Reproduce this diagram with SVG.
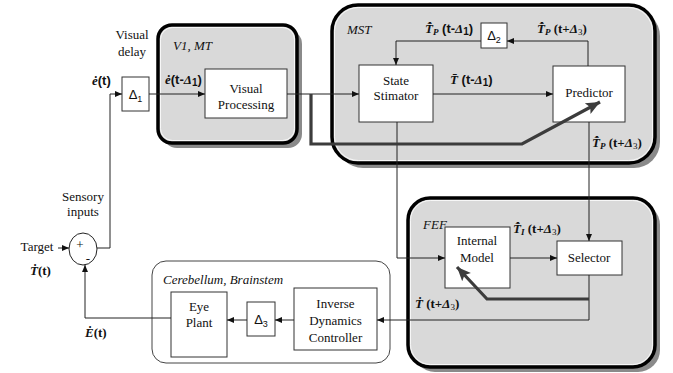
<svg xmlns="http://www.w3.org/2000/svg" width="673" height="373" viewBox="0 0 673 373">
<style>
.t{font-size:13px;fill:#111;text-anchor:middle}
.it{font-size:13px;font-style:italic;fill:#111}
.ms{font-size:13px;font-weight:bold;fill:#111}
.dl{font-size:13px;fill:#111;text-anchor:middle}
.mi{font-style:italic;font-weight:bold}
.box{fill:#fff;stroke:#333;stroke-width:1}
.sh{fill:#8a8a8a}
.reg{fill:#d9d9d9;stroke:#000;stroke-width:3.5}
.regin{fill:none;stroke:#fff;stroke-width:0.8}
.ln{fill:none;stroke:#222;stroke-width:1}
.thick{fill:none;stroke:#3c3c3c;stroke-width:3.2}
</style>
<defs>
<marker id="a" markerUnits="userSpaceOnUse" markerWidth="8" markerHeight="8" refX="7" refY="4" orient="auto">
<path d="M0,1 L7,4 L0,7 Z" fill="#111"/>
</marker>
<marker id="ab" markerUnits="userSpaceOnUse" markerWidth="16" markerHeight="14" refX="14" refY="7" orient="auto">
<path d="M0,1 L14,7 L0,13 L3,7 Z" fill="#3c3c3c"/>
</marker>
</defs>

<g id="region-v1mt">
<rect class="sh" x="163" y="30" width="139" height="118" rx="14"/>
<rect class="reg" x="158" y="25" width="139" height="118" rx="14"/>
<rect class="regin" x="160.5" y="27.5" width="134" height="113" rx="12"/>
<text class="it" style="font-family:'Liberation Serif', serif" x="173" y="50">V1, MT</text>
</g>
<g id="region-mst">
<rect class="sh" x="337" y="10" width="323" height="158" rx="26"/>
<rect class="reg" x="332" y="5" width="323" height="158" rx="26"/>
<rect class="regin" x="334.5" y="7.5" width="318" height="153" rx="24"/>
<text class="it" style="font-family:'Liberation Serif', serif" x="347" y="34">MST</text>
</g>
<g id="region-fef">
<rect class="sh" x="413" y="203" width="247" height="169" rx="22"/>
<rect class="reg" x="408" y="198" width="247" height="169" rx="22"/>
<rect class="regin" x="410.5" y="200.5" width="242" height="164" rx="20"/>
<text class="it" style="font-family:'Liberation Serif', serif" x="423" y="229">FEF</text>
</g>
<g id="region-cerebellum">
<rect x="152" y="261" width="238" height="102" rx="14" fill="#fff" stroke="#444" stroke-width="1"/>
<text class="it" style="font-family:'Liberation Serif', serif" x="163" y="284">Cerebellum, Brainstem</text>
</g>

<g id="delay1">
<rect class="box" x="122" y="77" width="27" height="34"/>
<text class="dl" style="font-family:'Liberation Sans', sans-serif" x="135.5" y="99">Δ<tspan font-size="9" dy="3">1</tspan></text>
</g>
<g id="visual-processing">
<rect class="box" x="205" y="69" width="82" height="49"/>
<text class="t" style="font-family:'Liberation Serif', serif" x="246" y="93">Visual</text>
<text class="t" style="font-family:'Liberation Serif', serif" x="246" y="109">Processing</text>
</g>
<g id="state-stimator">
<rect class="box" x="359" y="65" width="74" height="57"/>
<text class="t" style="font-family:'Liberation Serif', serif" x="396" y="85">State</text>
<text class="t" style="font-family:'Liberation Serif', serif" x="396" y="100">Stimator</text>
</g>
<g id="predictor">
<rect class="box" x="553" y="66" width="72" height="56"/>
<text class="t" style="font-family:'Liberation Serif', serif" x="589" y="97">Predictor</text>
</g>
<g id="delay2">
<rect class="box" x="481" y="23" width="26" height="25"/>
<text class="dl" style="font-family:'Liberation Sans', sans-serif" x="494" y="40">Δ<tspan font-size="9" dy="3">2</tspan></text>
</g>
<g id="internal-model">
<rect class="box" x="445" y="227" width="65" height="61"/>
<text class="t" style="font-family:'Liberation Serif', serif" x="477" y="245">Internal</text>
<text class="t" style="font-family:'Liberation Serif', serif" x="477" y="262">Model</text>
</g>
<g id="selector">
<rect class="box" x="557" y="241" width="65" height="34"/>
<text class="t" style="font-family:'Liberation Serif', serif" x="589" y="262">Selector</text>
</g>
<g id="inverse-dynamics">
<rect class="box" x="294" y="288" width="83" height="62"/>
<text class="t" style="font-family:'Liberation Serif', serif" x="335.5" y="308">Inverse</text>
<text class="t" style="font-family:'Liberation Serif', serif" x="335.5" y="325">Dynamics</text>
<text class="t" style="font-family:'Liberation Serif', serif" x="335.5" y="342">Controller</text>
</g>
<g id="delay3">
<rect class="box" x="247" y="302" width="28" height="34"/>
<text class="dl" style="font-family:'Liberation Sans', sans-serif" x="261" y="324">Δ<tspan font-size="9" dy="3">3</tspan></text>
</g>
<g id="eye-plant">
<rect class="box" x="171" y="292" width="56" height="65"/>
<text class="t" style="font-family:'Liberation Serif', serif" x="199" y="311">Eye</text>
<text class="t" style="font-family:'Liberation Serif', serif" x="199" y="327">Plant</text>
</g>
<g id="sum">
<ellipse cx="83" cy="249" rx="14" ry="16" fill="#fff" stroke="#222" stroke-width="1"/>
<text class="t" style="font-family:'Liberation Serif', serif" x="80" y="249" font-size="11">+</text>
<text class="t" style="font-family:'Liberation Serif', serif" x="88" y="263" font-size="12">-</text>
</g>

<g id="connectors">
<path class="ln" d="M58,248 L69,248" marker-end="url(#a)"/>
<path class="ln" d="M97,248 L110,248 L110,94 L122,94" marker-end="url(#a)"/>
<path class="ln" d="M149,94 L205,94" marker-end="url(#a)"/>
<path class="ln" d="M287,94 L359,94" marker-end="url(#a)"/>
<path class="ln" d="M433,94 L553,94" marker-end="url(#a)"/>
<path class="ln" d="M588,66 L588,41 L507,41" marker-end="url(#a)"/>
<path class="ln" d="M481,41 L396,41 L396,65" marker-end="url(#a)"/>
<path class="ln" d="M397,122 L397,258 L445,258" marker-end="url(#a)"/>
<path class="ln" d="M589,122 L589,241" marker-end="url(#a)"/>
<path class="ln" d="M510,258 L557,258" marker-end="url(#a)"/>
<path class="ln" d="M589,275 L589,320 L377,320" marker-end="url(#a)"/>
<path class="ln" d="M294,320 L275,320" marker-end="url(#a)"/>
<path class="ln" d="M247,320 L227,320" marker-end="url(#a)"/>
<path class="ln" d="M171,318 L85,318 L85,265" marker-end="url(#a)"/>
<path class="thick" d="M311,94 L311,144 L522,144 L600,102" marker-end="url(#ab)"/>
<path class="thick" d="M589,299 L487,299 L457,267" marker-end="url(#ab)"/>
</g>

<g id="labels">
<text class="t" style="font-family:'Liberation Serif', serif" x="132" y="39">Visual</text>
<text class="t" style="font-family:'Liberation Serif', serif" x="132" y="56">delay</text>
<text class="ms" style="font-family:'Liberation Sans', sans-serif" x="92" y="85"><tspan class="mi" style="font-family:'Liberation Serif', serif">ė</tspan>(t)</text>
<text class="ms" style="font-family:'Liberation Sans', sans-serif" x="165" y="84"><tspan class="mi" style="font-family:'Liberation Serif', serif">ė</tspan>(t-<tspan class="mi" style="font-family:'Liberation Serif', serif">Δ</tspan><tspan font-size="10" dy="2">1</tspan><tspan dy="-2">)</tspan></text>
<text class="ms" style="font-family:'Liberation Sans', sans-serif" x="425" y="33"><tspan class="mi" style="font-family:'Liberation Serif', serif">T&#x302;&#x307;</tspan><tspan class="mi" style="font-family:'Liberation Serif', serif" font-size="9" dy="2">P</tspan><tspan dy="-2"> (t-</tspan><tspan class="mi" style="font-family:'Liberation Serif', serif">Δ</tspan><tspan font-size="10" dy="2">1</tspan><tspan dy="-2">)</tspan></text>
<text class="ms" style="font-family:'Liberation Serif', serif" x="537" y="33"><tspan class="mi">T&#x302;&#x307;</tspan><tspan class="mi" font-size="9" dy="2">P</tspan><tspan dy="-2"> (t+</tspan><tspan class="mi">Δ</tspan><tspan font-size="9" font-weight="normal" dy="2">3</tspan><tspan dy="-2">)</tspan></text>
<text class="ms" style="font-family:'Liberation Sans', sans-serif" x="450" y="84"><tspan class="mi" style="font-family:'Liberation Serif', serif">T&#x304;</tspan> (t-<tspan class="mi" style="font-family:'Liberation Serif', serif">Δ</tspan><tspan font-size="10" dy="2">1</tspan><tspan dy="-2">)</tspan></text>
<text class="ms" style="font-family:'Liberation Serif', serif" x="592" y="147"><tspan class="mi">T&#x302;&#x307;</tspan><tspan class="mi" font-size="9" dy="2">P</tspan><tspan dy="-2"> (t+</tspan><tspan class="mi">Δ</tspan><tspan font-size="9" font-weight="normal" dy="2">3</tspan><tspan dy="-2">)</tspan></text>
<text class="ms" style="font-family:'Liberation Serif', serif" x="513" y="233"><tspan class="mi">T&#x302;&#x307;</tspan><tspan class="mi" font-size="9" dy="2">I</tspan><tspan dy="-2"> (t+</tspan><tspan class="mi">Δ</tspan><tspan font-size="9" font-weight="normal" dy="2">3</tspan><tspan dy="-2">)</tspan></text>
<text class="ms" style="font-family:'Liberation Serif', serif" x="415" y="308"><tspan class="mi">Ṫ</tspan> (t+<tspan class="mi">Δ</tspan><tspan font-size="9" font-weight="normal" dy="2">3</tspan><tspan dy="-2">)</tspan></text>
<text class="t" style="font-family:'Liberation Serif', serif" x="83" y="201">Sensory</text>
<text class="t" style="font-family:'Liberation Serif', serif" x="83" y="216">inputs</text>
<text class="t" style="font-family:'Liberation Serif', serif" x="37" y="251">Target</text>
<text class="ms" style="font-family:'Liberation Serif', serif" x="30" y="275"><tspan class="mi">Ṫ</tspan>(t)</text>
<text class="ms" style="font-family:'Liberation Serif', serif" x="85" y="337"><tspan class="mi">Ė</tspan>(t)</text>
</g>
</svg>
